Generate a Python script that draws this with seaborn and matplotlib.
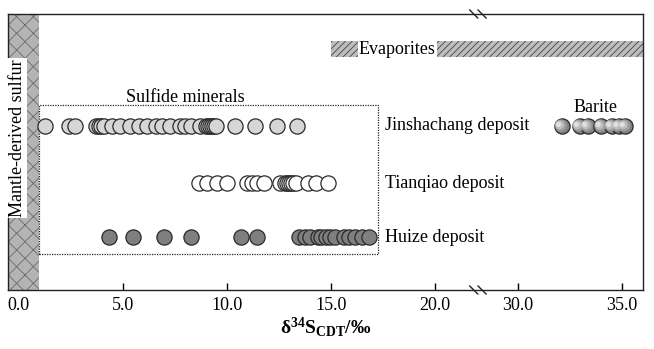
import numpy as np
import pandas as pd
import matplotlib
matplotlib.use("Agg")
import matplotlib.pyplot as plt
import seaborn as sns
from matplotlib.patches import Rectangle

# ---- data (δ34S, ‰) ----
jinshachang = [1.3, 2.45, 2.7, 3.75, 3.85, 3.95, 4.1, 4.5, 4.9, 5.35, 5.8, 6.2, 6.6,
               6.9, 7.3, 7.75, 8.0, 8.3, 8.7, 9.0, 9.1, 9.2, 9.3, 9.4, 9.5,
               10.4, 11.35, 12.4, 13.4]
tianqiao = [8.65, 9.05, 9.55, 10.0, 11.0, 11.2, 11.45, 11.8, 12.55, 12.8, 12.9,
            13.0, 13.1, 13.2, 13.35, 13.9, 14.3, 14.85]
huize = [4.35, 5.5, 7.0, 8.3, 10.7, 11.45, 13.5, 13.75, 14.0, 14.4, 14.55, 14.75,
         14.95, 15.2, 15.65, 15.9, 16.15, 16.5, 16.85]
barite = [32.1, 32.95, 33.35, 34.0, 34.5, 34.85, 35.15]

deposits = ["Jinshachang deposit", "Tianqiao deposit", "Huize deposit"]
row_y = [164, 107, 53]
tick_values = [0, 5, 10, 15, 20, 30, 35]
tick_labels = ["0.0", "5.0", "10.0", "15.0", "20.0", "30.0", "35.0"]

# broken axis: values beyond the gap are shifted left
BREAK_AT = 22.07
SHIFT = 6.0


def to_axis(v):
    v = np.asarray(v, dtype=float)
    return np.where(v > BREAK_AT + SHIFT / 2, v - SHIFT, v)


sns.set_theme(style="white")
plt.rcParams["font.family"] = ["Liberation Serif", "DejaVu Serif"]
plt.rcParams["mathtext.fontset"] = "custom"
plt.rcParams["mathtext.rm"] = "Liberation Serif"
plt.rcParams["mathtext.bf"] = "Liberation Serif:bold"
plt.rcParams["mathtext.it"] = "Liberation Serif:italic"
plt.rcParams["hatch.linewidth"] = 0.6
plt.rcParams["text.color"] = "black"
plt.rcParams["axes.labelcolor"] = "black"
plt.rcParams["xtick.color"] = "black"

FS = 13

fig = plt.figure(figsize=(6.54, 3.49), dpi=100)
ax = fig.add_axes([8 / 654, 59 / 349, 635 / 654, 276 / 349])

frames = []
for name, vals, y in zip(deposits, [jinshachang, tianqiao, huize], row_y):
    frames.append(pd.DataFrame({"d34S": vals, "y": y, "deposit": name}))
df = pd.concat(frames, ignore_index=True)
df["x"] = to_axis(df["d34S"])

fills = {"Jinshachang deposit": "#d6d6d6",
         "Tianqiao deposit": "#ffffff",
         "Huize deposit": "#7f7f7f"}

# mantle-derived sulfur band
ax.add_patch(Rectangle((-0.5, 0), 1.5, 276, facecolor="#b4b4b4",
                       edgecolor="#6a6a6a", hatch="xx", linewidth=0, zorder=1))
ax.text(-0.05, 152, "Mantle-derived sulfur", rotation=90, ha="center", va="center",
        fontsize=FS, zorder=3,
        bbox=dict(facecolor="white", edgecolor="none", pad=1.0))

# evaporites band
ax.add_patch(Rectangle((15.0, 233), 15.5, 16, facecolor="#bdbdbd",
                       edgecolor="#444444", hatch="/////", linewidth=0, zorder=1))
ax.text(18.2, 241, "Evaporites", ha="center", va="center", fontsize=FS, zorder=3,
        bbox=dict(facecolor="white", edgecolor="none", pad=0.6))

# sulfide minerals frame
ax.add_patch(Rectangle((1.0, 36), 16.25, 149, facecolor="none", edgecolor="#222222",
                       linestyle=(0, (1, 1)), linewidth=0.9, zorder=2))
ax.text(8.0, 193, "Sulfide minerals", ha="center", va="center", fontsize=FS)

for name in deposits:
    sub = df[df["deposit"] == name]
    sns.scatterplot(data=sub, x="x", y="y", ax=ax, s=120, color=fills[name],
                    edgecolor="#2a2a2a", linewidth=0.9, zorder=4, legend=False)

for name, y in zip(deposits, row_y):
    ax.text(17.6, y, name, ha="left", va="center", fontsize=FS)

# barite: shaded spheres
bdf = pd.DataFrame({"x": to_axis(barite), "y": 164.0})
sns.scatterplot(data=bdf, x="x", y="y", ax=ax, s=120, color="#808080",
                edgecolor="#2a2a2a", linewidth=0.9, zorder=5, legend=False)
for k, (sz, col) in enumerate([(75, "#9c9c9c"), (40, "#bdbdbd"), (14, "#e0e0e0")]):
    ax.scatter(bdf["x"] - 0.05 * (k + 1), bdf["y"] + 0.5 * (k + 1), s=sz, color=col,
               edgecolor="none", zorder=6 + k)
ax.text(27.7, 183, "Barite", ha="center", va="center", fontsize=FS)

ax.set_xlim(-0.5, 30.0)
ax.set_ylim(0, 276)
ax.set_xticks(to_axis(tick_values))
ax.set_xticklabels(tick_labels, fontsize=FS)
ax.set_yticks([])
ax.set_ylabel("")
ax.set_xlabel(r"$\mathbf{δ^{34}S_{CDT}/‰}$", fontsize=14, labelpad=1)
ax.tick_params(axis="x", direction="in", length=5, width=1, bottom=True, top=False,
               pad=5, colors="black")
for sp in ax.spines.values():
    sp.set_visible(True)
    sp.set_color("#222222")
    sp.set_linewidth(1.0)

# break marks on the top and bottom spines
trans = ax.get_xaxis_transform()
for yb in (0.0, 1.0):
    for dx in (-0.2, 0.2):
        ax.plot([BREAK_AT + dx - 0.2, BREAK_AT + dx + 0.2], [yb + 0.015, yb - 0.015],
                transform=trans, color="#222222", linewidth=1.0, clip_on=False, zorder=10)

fig.savefig("out.png", dpi=100)
